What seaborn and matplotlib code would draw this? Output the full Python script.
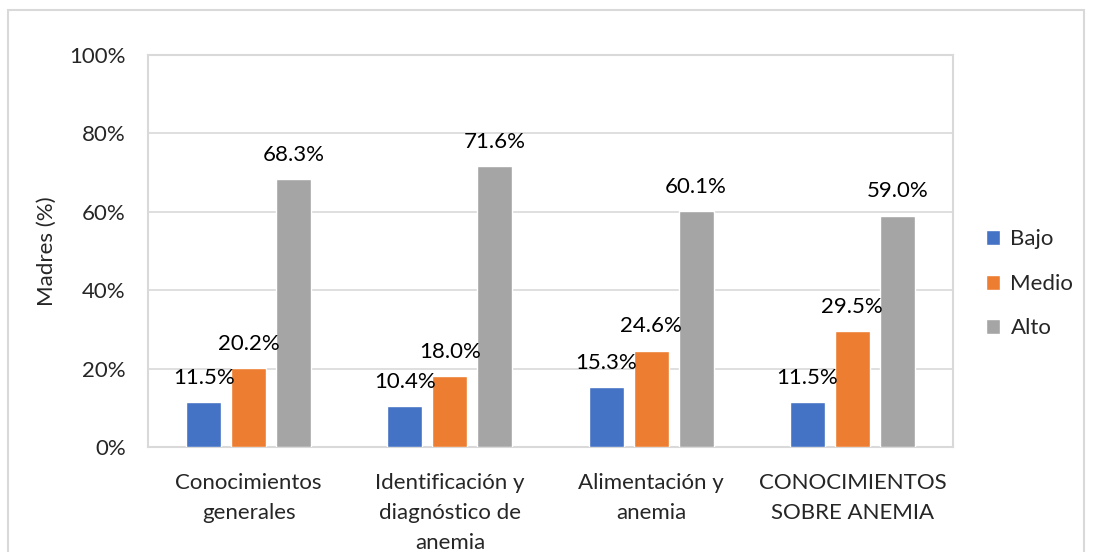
import numpy as np
import pandas as pd
import matplotlib.pyplot as plt
import seaborn as sns
from matplotlib.patches import Rectangle

categorias = ["Conocimientos\ngenerales", "Identificación y\ndiagnóstico de\nanemia",
              "Alimentación y\nanemia", "CONOCIMIENTOS\nSOBRE ANEMIA"]
niveles = ["Bajo", "Medio", "Alto"]
bajo = [11.5, 10.4, 15.3, 11.5]
medio = [20.2, 18.0, 24.6, 29.5]
alto = [68.3, 71.6, 60.1, 59.0]
colores = ["#4472C4", "#ED7D31", "#A5A5A5"]

df = pd.DataFrame({
    "categoria": categorias * 3,
    "nivel": [n for n in niveles for _ in categorias],
    "valor": bajo + medio + alto,
})

sns.set_style("white")
plt.rcParams["font.family"] = ["Lato", "DejaVu Sans"]

fig = plt.figure(figsize=(10.95, 5.52), dpi=100)
ax = fig.add_axes([148 / 1095, 105 / 552, 805 / 1095, 392 / 552])

sns.barplot(data=df, x="categoria", y="valor", hue="nivel", order=categorias,
            hue_order=niveles, palette=colores, width=0.67, gap=0.22,
            saturation=1, ax=ax, zorder=3)

# etiquetas de datos
for bars in ax.containers:
    for bar in bars:
        h = bar.get_height()
        ax.annotate(f"{h:.1f}%", (bar.get_x() + bar.get_width() / 2, h),
                    xytext=(0, 17.5), textcoords="offset points",
                    ha="center", va="center", fontsize=16, color="#000000")

ax.set_ylim(0, 100)
ax.set_yticks(np.arange(0, 101, 20))
ax.set_yticklabels([f"{v}%" for v in range(0, 101, 20)], fontsize=16)
ax.set_xlim(-0.5, 3.5)
ax.tick_params(axis="x", labelsize=16, length=0, pad=19)
ax.tick_params(axis="y", length=0, pad=16)
for lbl in ax.get_xticklabels():
    lbl.set_linespacing(1.6)
ax.set_xlabel("")
ax.set_ylabel("Madres (%)", fontsize=16, labelpad=9)
ax.grid(axis="y", color="#D9D9D9", linewidth=1.2, zorder=0)
for s in ax.spines.values():
    s.set_color("#D9D9D9")
    s.set_linewidth(1.5)

leg = ax.legend(loc="center left", bbox_to_anchor=(1.03, 0.416), frameon=False,
                fontsize=16, handlelength=0.65, handleheight=0.65,
                labelspacing=1.1, handletextpad=0.45, borderaxespad=0)

# borde exterior del gráfico
fig.patches.append(Rectangle((8 / 1095, -0.05), 1076 / 1095, 1.05 - 10 / 552,
                             transform=fig.transFigure, fill=False,
                             edgecolor="#D9D9D9", linewidth=1.5))

fig.savefig("out.png", dpi=100)
